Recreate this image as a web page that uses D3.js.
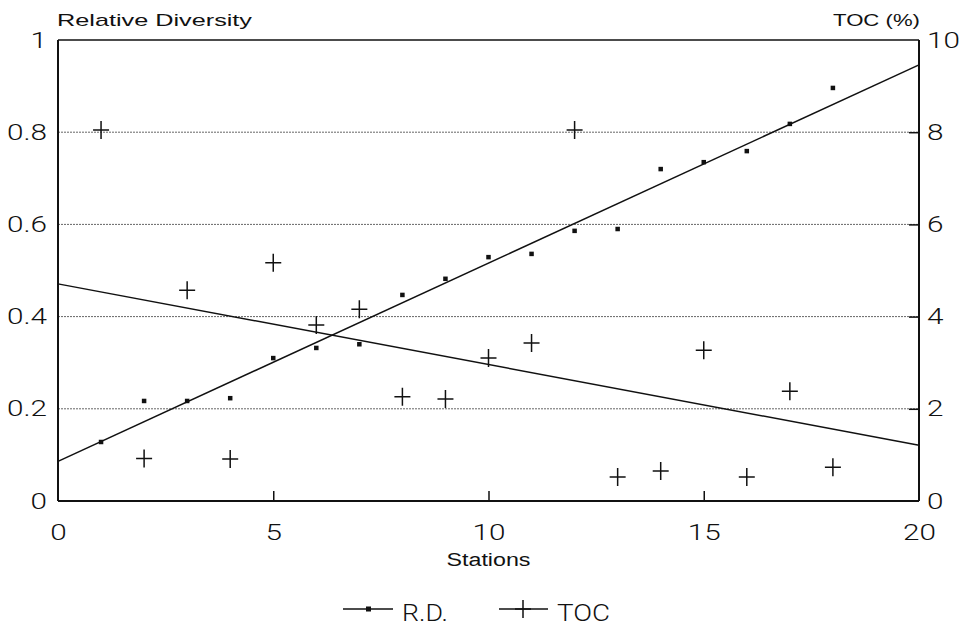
<!DOCTYPE html>
<html>
<head>
<meta charset="utf-8">
<script src="https://cdn.jsdelivr.net/npm/d3@7"></script>
<style>
  body { margin: 0; background: #fff; }
  svg { display: block; font-family: "Liberation Sans", Arial, sans-serif; }
</style>
</head>
<body>
<svg id="chart" width="963" height="626"></svg>
<script>
// stations 1..18
var stations = [1, 2, 3, 4, 5, 6, 7, 8, 9, 10, 11, 12, 13, 14, 15, 16, 17, 18];
// relative diversity (left axis)
var rdValues = [0.128, 0.217, 0.217, 0.223, 0.31, 0.332, 0.34, 0.447, 0.482,
                0.529, 0.536, 0.586, 0.59, 0.72, 0.735, 0.759, 0.818, 0.896];
// total organic carbon, % (right axis)
var tocValues = [8.05, 0.92, 4.57, 0.91, 5.17, 3.82, 4.16, 2.26, 2.21,
                 3.1, 3.43, 8.05, 0.52, 0.65, 3.27, 0.52, 2.38, 0.73];
// fitted lines as drawn, value at station 0 and station 20
var trendX = [0, 20];
var rdTrend = [0.086, 0.946];
var tocTrend = [4.71, 1.21];

var xTicks = [0, 5, 10, 15, 20];
var rdTicks = [0, 0.2, 0.4, 0.6, 0.8, 1];
var tocTicks = [0, 2, 4, 6, 8, 10];

var margin = {top: 40, right: 44, bottom: 125, left: 58};
var svg = d3.select('#chart');
var W = +svg.attr('width'), H = +svg.attr('height');
var w = W - margin.left - margin.right;   // 861
var h = H - margin.top - margin.bottom;   // 461

var x = d3.scaleLinear().domain([0, 20]).range([0, w]);
var yL = d3.scaleLinear().domain([0, 1]).range([h, 0]);
var yR = d3.scaleLinear().domain([0, 10]).range([h, 0]);

var g = svg.append('g')
    .attr('transform', 'translate(' + margin.left + ',' + margin.top + ')');

// dotted grid lines
g.selectAll('line.grid')
    .data(rdTicks.slice(1, -1))
  .enter().append('line')
    .attr('class', 'grid')
    .attr('x1', 0).attr('x2', w)
    .attr('y1', function (d) { return yL(d); })
    .attr('y2', function (d) { return yL(d); })
    .style('stroke', '#666')
    .style('stroke-width', 1)
    .style('stroke-dasharray', '2,1');

// frame: top line
g.append('line')
    .attr('x1', 0).attr('x2', w).attr('y1', 0).attr('y2', 0)
    .style('stroke', '#111').style('stroke-width', 1.5);

// the original lettering is a wide, thin face: stretch the glyphs sideways
var stretch = 1.35;
var tickFont = 'Roboto, "Liberation Sans", Arial, sans-serif';

var xAxis = g.append('g')
    .attr('transform', 'translate(0,' + h + ')')
    .call(d3.axisBottom(x).tickValues(xTicks).tickSize(-10).tickPadding(23).tickFormat(d3.format('d')));
var leftAxis = g.append('g')
    .call(d3.axisLeft(yL).tickValues(rdTicks).tickSize(0).tickPadding(11)
      .tickFormat(function (d) { return d === 0 || d === 1 ? d : d3.format('.1f')(d); }));
var rightAxis = g.append('g')
    .attr('transform', 'translate(' + w + ',0)')
    .call(d3.axisRight(yR).tickValues(tocTicks).tickSize(-10).tickPadding(8).tickFormat(d3.format('d')));

[xAxis, leftAxis, rightAxis].forEach(function (a) {
  a.select('.domain').style('stroke', '#111').style('stroke-width', 2);
  a.selectAll('.tick line').style('stroke', '#111').style('stroke-width', 1.5);
  a.selectAll('.tick text')
      .style('font-size', '22px')
      .style('font-weight', 300)
      .style('fill', '#111')
      .style('font-family', tickFont)
      .attr('x', function () { return +d3.select(this).attr('x') / stretch; })
      .attr('transform', 'scale(' + stretch + ',1)');
});
xAxis.selectAll('.tick').filter(function (d) { return d === 0 || d === 20; }).select('line').remove();
rightAxis.selectAll('.tick').filter(function (d) { return d === 0 || d === 10; }).select('line').remove();
xAxis.select('.domain').attr('d', 'M0,0H' + w);
leftAxis.select('.domain').attr('d', 'M0,0V' + h);
rightAxis.select('.domain').attr('d', 'M0,0V' + h);

// fitted lines
var line = d3.line().x(function (d) { return x(d[0]); }).y(function (d) { return d[1]; });
g.append('path')
    .datum(trendX.map(function (t, i) { return [t, yL(rdTrend[i])]; }))
    .attr('d', line)
    .style('fill', 'none').style('stroke', '#111').style('stroke-width', 1.5);
g.append('path')
    .datum(trendX.map(function (t, i) { return [t, yR(tocTrend[i])]; }))
    .attr('d', line)
    .style('fill', 'none').style('stroke', '#111').style('stroke-width', 1.5);

// R.D. points
g.selectAll('rect.rd')
    .data(stations)
  .enter().append('rect')
    .attr('class', 'rd')
    .attr('x', function (d) { return x(d) - 2.25; })
    .attr('y', function (d, i) { return yL(rdValues[i]) - 2.25; })
    .attr('width', 4.5).attr('height', 4.5)
    .style('fill', '#111');

// TOC crosses
var cross = 'M-8,0H8M0,-9V9';
g.selectAll('path.toc')
    .data(stations)
  .enter().append('path')
    .attr('class', 'toc')
    .attr('transform', function (d, i) { return 'translate(' + x(d) + ',' + yR(tocValues[i]) + ')'; })
    .attr('d', cross)
    .style('stroke', '#111').style('stroke-width', 1.5);

// labels, fitted to the widths of the original lettering
function label(txt, px, py, size, len, anchor, font, weight) {
  return svg.append('text')
      .attr('x', px).attr('y', py)
      .attr('text-anchor', anchor || 'start')
      .attr('textLength', len)
      .attr('lengthAdjust', 'spacingAndGlyphs')
      .style('font-size', size + 'px')
      .style('font-family', font || '"Liberation Sans", Arial, sans-serif')
      .style('font-weight', weight || 400)
      .style('fill', '#111')
      .text(txt);
}
label('Relative Diversity', 57, 26, 17, 195);
label('TOC (%)', 920, 26, 17, 87, 'end');
label('Stations', margin.left + x(10), 566, 18, 84, 'middle');

// legend
var legend = svg.append('g').attr('transform', 'translate(0,609)');
legend.append('line').attr('x1', 343).attr('x2', 393).attr('y1', 0).attr('y2', 0)
    .style('stroke', '#111').style('stroke-width', 1.5);
legend.append('rect').attr('x', 366).attr('y', -2.5).attr('width', 5).attr('height', 5).style('fill', '#111');
legend.append('line').attr('x1', 499).attr('x2', 548).attr('y1', 0).attr('y2', 0)
    .style('stroke', '#111').style('stroke-width', 1.5);
legend.append('path').attr('transform', 'translate(523,0)').attr('d', cross)
    .style('stroke', '#111').style('stroke-width', 1.5);
label('R.D.', 402, 621, 24, 46, 'start', tickFont, 300);
label('TOC', 557, 621, 24, 53, 'start', tickFont, 300);
</script>
</body>
</html>
